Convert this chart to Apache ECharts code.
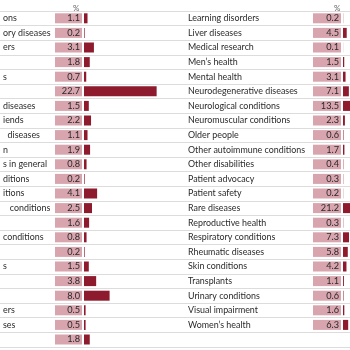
<!DOCTYPE html>
<html><head><meta charset="utf-8">
<script src="https://cdn.jsdelivr.net/npm/echarts@6/dist/echarts.min.js"></script>
<style>html,body{margin:0;padding:0;background:#fff}#c{width:350px;height:350px}</style>
</head><body><div id="c"></div>
<script>
var leftNames = ["ons","ory diseases","ers","","s","","diseases","iends","  diseases","n","s in general","ditions","itions","   conditions","","conditions","","s","","","ers","ses",""];
var leftValues = [1.1,0.2,3.1,1.8,0.7,22.7,1.5,2.2,1.1,1.9,0.8,0.2,4.1,2.5,1.6,0.8,0.2,1.5,3.8,8.0,0.5,0.5,1.8];
var rightNames = ["Learning disorders","Liver diseases","Medical research","Men\u2019s health","Mental health","Neurodegenerative diseases","Neurological conditions","Neuromuscular conditions","Older people","Other autoimmune conditions","Other disabilities","Patient advocacy","Patient safety","Rare diseases","Reproductive health","Respiratory conditions","Rheumatic diseases","Skin conditions","Transplants","Urinary conditions","Visual impairment","Women\u2019s health"];
var rightValues = [0.2,4.5,0.1,1.5,3.1,7.1,13.5,2.3,0.6,1.7,0.4,0.3,0.2,21.2,0.3,7.3,5.8,4.2,1.1,0.6,1.6,6.3];
var unitLabel = "%";

var ROW = 14.6, TOP = 11;
var FONT = "Lato";
var BAR = "#8e1a2d", BOX = "#d8a4ad", TXT = "#2a2a2a", LINE = "#dcdcdc";
var chart = echarts.init(document.getElementById('c'), null, {renderer:'canvas'});
function fmt(vals){ return function(v, i){ return '{n|' + v + '}{v|' + vals[i].toFixed(1) + '}'; }; }
function rich(nw, vw){
  return {
    n:{width:nw, align:'left', fontSize:8.9, fontFamily:FONT, color:TXT},
    v:{width:vw, align:'right', fontSize:9.2, fontFamily:FONT, color:TXT, backgroundColor:BOX, height:10, lineHeight:10, padding:[0,2,0,0]}
  };
}
var bgCats = leftValues.map(function(_, i){ return 'r' + i; });
chart.setOption({
  animation:false,
  title:[
    {text:unitLabel, left:68, top:-1, textStyle:{fontSize:8, fontWeight:'normal', color:'#666', fontFamily:FONT}},
    {text:unitLabel, left:329, top:-1, textStyle:{fontSize:8, fontWeight:'normal', color:'#666', fontFamily:FONT}}
  ],
  grid:[
    {left:81, top:TOP, width:99, height:ROW*leftValues.length, containLabel:false},
    {left:343, top:TOP, width:99, height:ROW*rightValues.length, containLabel:false},
    {left:0, top:TOP, width:350, height:ROW*leftValues.length, containLabel:false}
  ],
  xAxis:[
    {gridIndex:0, type:'value', min:0, max:30, show:false},
    {gridIndex:1, type:'value', min:0, max:30, show:false},
    {gridIndex:2, type:'value', min:0, max:1, show:false}
  ],
  yAxis:[
    {gridIndex:0, type:'category', inverse:true, data:leftNames, axisLine:{show:false}, axisTick:{show:false}, splitLine:{show:false},
      axisLabel:{margin:2, formatter:fmt(leftValues), rich:rich(52,25), interval:0}},
    {gridIndex:1, type:'category', inverse:true, data:rightNames, axisLine:{show:false}, axisTick:{show:false}, splitLine:{show:false},
      axisLabel:{margin:2, formatter:fmt(rightValues), rich:rich(125,26), interval:0}},
    {gridIndex:2, type:'category', inverse:true, data:bgCats, axisLine:{show:false}, axisTick:{show:false}, axisLabel:{show:false},
      splitLine:{show:true, interval:0, lineStyle:{color:LINE, width:1}}, z:0}
  ],
  series:[
    {type:'bar', xAxisIndex:0, yAxisIndex:0, data:leftValues, barWidth:10, itemStyle:{color:BAR}, silent:true},
    {type:'bar', xAxisIndex:1, yAxisIndex:1, data:rightValues, barWidth:10, itemStyle:{color:BAR}, silent:true}
  ]
});
</script></body></html>
